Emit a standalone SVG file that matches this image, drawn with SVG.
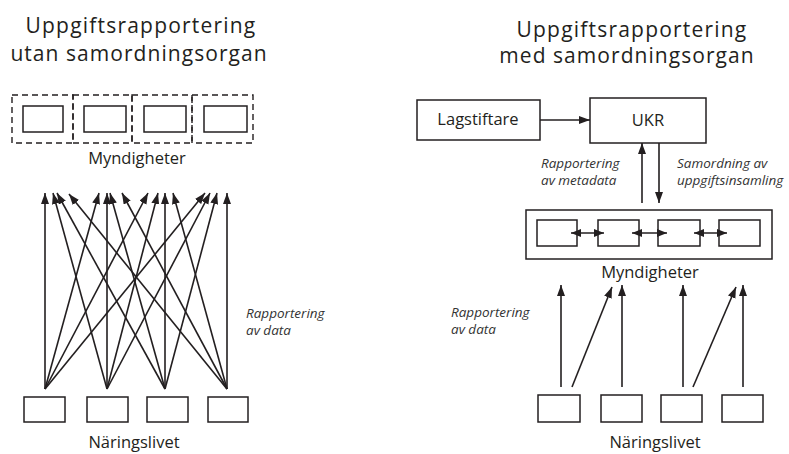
<svg xmlns="http://www.w3.org/2000/svg" width="789" height="454" viewBox="0 0 789 454">
  <defs>
    <marker id="ah" markerUnits="userSpaceOnUse" markerWidth="12" markerHeight="9" refX="11" refY="4" orient="auto">
      <path d="M0,0 L11,4 L0,8 Z" fill="#231f20"/>
    </marker>
    <marker id="ahs" markerUnits="userSpaceOnUse" markerWidth="11" markerHeight="9" refX="10" refY="4" orient="auto-start-reverse">
      <path d="M0,0 L10,4 L0,8 Z" fill="#231f20"/>
    </marker>
  </defs>
  <style>
    .t { font-family: "Open Sans", "Noto Sans", "Liberation Sans", sans-serif; fill: #231f20; }
    .title { font-size: 21px; text-anchor: middle; letter-spacing: 1.2px; }
    .lbl { font-size: 16.5px; text-anchor: middle; }
    .it { font-size: 13.5px; font-style: italic; fill: #333; }
    .box { fill: #fff; stroke: #231f20; stroke-width: 1.5; }
    .dash { fill: none; stroke: #231f20; stroke-width: 1.4; stroke-dasharray: 6 4; }
    .ln { fill: none; stroke: #231f20; stroke-width: 1.6; marker-end: url(#ah); }
    .dbl { fill: none; stroke: #231f20; stroke-width: 1.6; marker-start: url(#ahs); marker-end: url(#ahs); }
  </style>
  <rect width="789" height="454" fill="#fff"/>

  <!-- Left panel: reporting without a coordinating body -->
  <g id="title-left" class="t title">
    <text x="141" y="33">Uppgiftsrapportering</text>
    <text x="139" y="61" letter-spacing="1.05">utan samordningsorgan</text>
  </g>

  <g id="myndighet-l1"><rect class="dash" x="12" y="95" width="61" height="48"/><rect class="box" x="23" y="106" width="40" height="26"/></g>
  <g id="myndighet-l2"><rect class="dash" x="73" y="95" width="59" height="48"/><rect class="box" x="84" y="106" width="42" height="26"/></g>
  <g id="myndighet-l3"><rect class="dash" x="132" y="95" width="60" height="48"/><rect class="box" x="144" y="106" width="42" height="26"/></g>
  <g id="myndighet-l4"><rect class="dash" x="192" y="95" width="61" height="48"/><rect class="box" x="204" y="106" width="43" height="26"/></g>
  <text class="t lbl" x="137" y="164">Myndigheter</text>

  <g id="foretag-l1"><rect class="box" x="24" y="397" width="41" height="25"/></g>
  <g id="foretag-l2"><rect class="box" x="87" y="397" width="41" height="25"/></g>
  <g id="foretag-l3"><rect class="box" x="147" y="397" width="41" height="25"/></g>
  <g id="foretag-l4"><rect class="box" x="208" y="397" width="40" height="25"/></g>
  <text class="t lbl" x="134" y="448">Näringslivet</text>

  <g class="t it">
    <text x="246" y="318">Rapportering</text>
    <text x="246" y="335">av data</text>
  </g>

  <g id="connectors-left">
    <line class="ln" x1="45" y1="389" x2="45" y2="193"/>
    <line class="ln" x1="45" y1="389" x2="99" y2="193"/>
    <line class="ln" x1="45" y1="389" x2="148" y2="193"/>
    <line class="ln" x1="45" y1="389" x2="205" y2="193"/>
    <line class="ln" x1="107" y1="389" x2="53" y2="193"/>
    <line class="ln" x1="107" y1="389" x2="107" y2="193"/>
    <line class="ln" x1="107" y1="389" x2="158" y2="193"/>
    <line class="ln" x1="107" y1="389" x2="210" y2="193"/>
    <line class="ln" x1="165" y1="389" x2="57" y2="193"/>
    <line class="ln" x1="165" y1="389" x2="110" y2="193"/>
    <line class="ln" x1="165" y1="389" x2="165" y2="193"/>
    <line class="ln" x1="165" y1="389" x2="217" y2="193"/>
    <line class="ln" x1="227" y1="389" x2="69" y2="194"/>
    <line class="ln" x1="227" y1="389" x2="122" y2="193"/>
    <line class="ln" x1="227" y1="389" x2="173" y2="193"/>
    <line class="ln" x1="227" y1="389" x2="227" y2="193"/>
  </g>

  <!-- Right panel: reporting with a coordinating body -->
  <g id="title-right" class="t title">
    <text x="632" y="37">Uppgiftsrapportering</text>
    <text x="627" y="63" letter-spacing="1.05">med samordningsorgan</text>
  </g>

  <g id="lagstiftare">
    <rect class="box" x="417" y="100" width="123" height="40"/>
    <text class="t lbl" x="478" y="125">Lagstiftare</text>
  </g>
  <g id="ukr">
    <rect class="box" x="590" y="98" width="116" height="45"/>
    <text class="t lbl" x="648" y="126">UKR</text>
  </g>

  <g class="t it">
    <text x="541" y="168">Rapportering</text>
    <text x="541" y="185">av metadata</text>
    <text x="677" y="168">Samordning av</text>
    <text x="677" y="185">uppgiftsinsamling</text>
  </g>

  <g id="myndigheter-r">
    <rect class="box" x="526" y="210" width="246" height="49"/>
    <g id="myndighet-r1"><rect class="box" x="537" y="220" width="40" height="26"/></g>
    <g id="myndighet-r2"><rect class="box" x="598" y="220" width="41" height="26"/></g>
    <g id="myndighet-r3"><rect class="box" x="658" y="220" width="42" height="26"/></g>
    <g id="myndighet-r4"><rect class="box" x="719" y="220" width="41" height="26"/></g>
  </g>
  <text class="t lbl" x="650" y="278">Myndigheter</text>

  <g id="foretag-r1"><rect class="box" x="538" y="395" width="42" height="27"/></g>
  <g id="foretag-r2"><rect class="box" x="601" y="395" width="41" height="27"/></g>
  <g id="foretag-r3"><rect class="box" x="661" y="395" width="41" height="27"/></g>
  <g id="foretag-r4"><rect class="box" x="722" y="395" width="41" height="27"/></g>
  <text class="t lbl" x="655" y="448">Näringslivet</text>

  <g class="t it">
    <text x="451" y="317">Rapportering</text>
    <text x="451" y="334">av data</text>
  </g>

  <g id="connectors-right">
    <line class="ln" x1="540" y1="120" x2="590" y2="120"/>
    <line class="ln" x1="642" y1="203" x2="642" y2="143"/>
    <line class="ln" x1="659" y1="143" x2="659" y2="203"/>
    <line class="dbl" x1="571" y1="233" x2="604" y2="233"/>
    <line class="dbl" x1="632" y1="233" x2="667" y2="233"/>
    <line class="dbl" x1="694" y1="233" x2="727" y2="233"/>
    <line class="ln" x1="561" y1="387" x2="561" y2="285"/>
    <line class="ln" x1="572" y1="387" x2="612" y2="287"/>
    <line class="ln" x1="622" y1="387" x2="622" y2="285"/>
    <line class="ln" x1="683" y1="387" x2="683" y2="285"/>
    <line class="ln" x1="693" y1="387" x2="736" y2="287"/>
    <line class="ln" x1="743" y1="387" x2="743" y2="285"/>
  </g>
</svg>
